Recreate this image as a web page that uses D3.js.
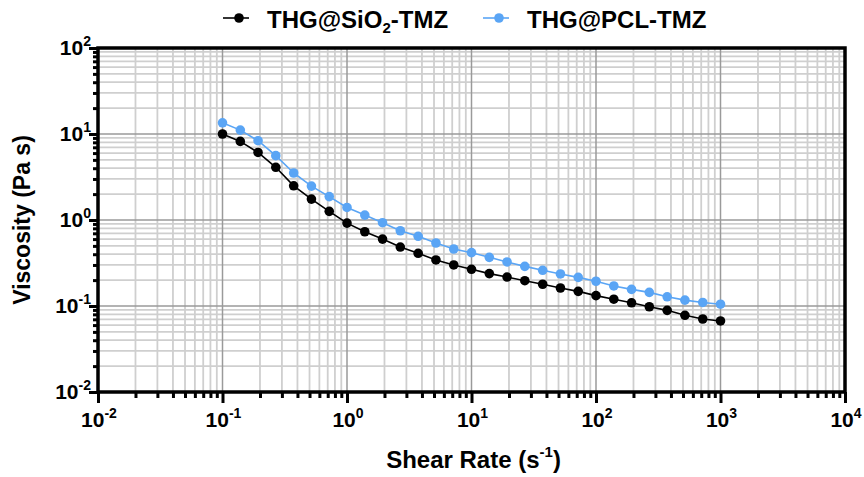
<!DOCTYPE html>
<html>
<head>
<meta charset="utf-8">
<script src="https://cdn.jsdelivr.net/npm/d3@7"></script>
<style>
  body { margin: 0; background: #fff; }
  svg text { font-family: "Liberation Sans", Arial, sans-serif; font-weight: bold; fill: #000; }
</style>
</head>
<body>
<div class="container"></div>
<script>
// shear rate (1/s), 7 points per decade
const shearRate = [0.1, 0.139, 0.193, 0.268, 0.373, 0.518, 0.72,
    1, 1.39, 1.93, 2.68, 3.73, 5.18, 7.2,
    10, 13.9, 19.3, 26.8, 37.3, 51.8, 72,
    100, 139, 193, 268, 373, 518, 720, 1000];

const viscSiO2 = [10, 8.2, 6.1, 4.1, 2.5, 1.75, 1.26,
    0.92, 0.73, 0.6, 0.485, 0.41, 0.343, 0.3,
    0.267, 0.238, 0.217, 0.197, 0.179, 0.162, 0.148,
    0.132, 0.12, 0.109, 0.098, 0.089, 0.078, 0.0706, 0.067];

const viscPCL = [13.5, 11.1, 8.36, 5.6, 3.52, 2.48, 1.87,
    1.4, 1.14, 0.93, 0.75, 0.646, 0.54, 0.46,
    0.417, 0.368, 0.325, 0.289, 0.26, 0.236, 0.215,
    0.194, 0.171, 0.156, 0.144, 0.128, 0.117, 0.11, 0.105];

const xExponents = [-2, -1, 0, 1, 2, 3, 4];
const yExponents = [-2, -1, 0, 1, 2];

const seriesNames = ["THG@SiO", "THG@PCL-TMZ"];
const seriesColors = ["#000000", "#5aa5f5"];

const drawChart = () => {
    const w = 864, h = 477,
        padding = { top: 48, bottom: 85, left: 98, right: 19 };

    const xScale = d3.scaleLog()
        .domain([1e-2, 1e4])
        .range([padding.left, w - padding.right]);

    const yScale = d3.scaleLog()
        .domain([1e-2, 1e2])
        .range([h - padding.bottom, padding.top]);

    let svg = d3.select("div.container")
        .append("svg")
        .attr("width", w)
        .attr("height", h);

    // minor / major tick values
    const minorX = [], minorY = [];
    xExponents.slice(0, -1).forEach(e => { for (let k = 2; k <= 9; k++) minorX.push(k * Math.pow(10, e)); });
    yExponents.slice(0, -1).forEach(e => { for (let k = 2; k <= 9; k++) minorY.push(k * Math.pow(10, e)); });
    const majorX = xExponents.map(e => Math.pow(10, e));
    const majorY = yExponents.map(e => Math.pow(10, e));

    const grid = svg.append("g").attr("class", "grid");
    grid.selectAll("line.minor-x").data(minorX).enter().append("line")
        .attr("x1", d => xScale(d)).attr("x2", d => xScale(d))
        .attr("y1", padding.top).attr("y2", h - padding.bottom)
        .attr("stroke", "#cfcfcf").attr("stroke-width", 1.8);
    grid.selectAll("line.minor-y").data(minorY).enter().append("line")
        .attr("y1", d => yScale(d)).attr("y2", d => yScale(d))
        .attr("x1", padding.left).attr("x2", w - padding.right)
        .attr("stroke", "#cfcfcf").attr("stroke-width", 1.8);
    grid.selectAll("line.major-x").data(majorX).enter().append("line")
        .attr("x1", d => xScale(d)).attr("x2", d => xScale(d))
        .attr("y1", padding.top).attr("y2", h - padding.bottom)
        .attr("stroke", "#9a9a9a").attr("stroke-width", 1.5);
    grid.selectAll("line.major-y").data(majorY).enter().append("line")
        .attr("y1", d => yScale(d)).attr("y2", d => yScale(d))
        .attr("x1", padding.left).attr("x2", w - padding.right)
        .attr("stroke", "#9a9a9a").attr("stroke-width", 1.5);

    // axes with ticks
    const xAxis = d3.axisBottom(xScale).tickValues(majorX).tickSize(11).tickFormat("");
    const xAxisMinor = d3.axisBottom(xScale).tickValues(minorX).tickSize(6).tickFormat("");
    const yAxis = d3.axisLeft(yScale).tickValues(majorY).tickSize(9).tickFormat("");
    const yAxisMinor = d3.axisLeft(yScale).tickValues(minorY).tickSize(5).tickFormat("");

    [xAxis, xAxisMinor].forEach(ax => {
        svg.append("g")
            .attr("transform", "translate(0," + (h - padding.bottom) + ")")
            .call(ax)
            .call(g => g.select(".domain").remove())
            .selectAll("line").attr("stroke", "#000").attr("stroke-width", 3);
    });
    [yAxis, yAxisMinor].forEach(ax => {
        svg.append("g")
            .attr("transform", "translate(" + padding.left + ",0)")
            .call(ax)
            .call(g => g.select(".domain").remove())
            .selectAll("line").attr("stroke", "#000").attr("stroke-width", 3);
    });

    // frame
    svg.append("rect")
        .attr("x", padding.left).attr("y", padding.top)
        .attr("width", w - padding.left - padding.right)
        .attr("height", h - padding.top - padding.bottom)
        .attr("fill", "none").attr("stroke", "#000").attr("stroke-width", 3.5);

    // tick labels
    const xl = svg.selectAll("text.xlab").data(xExponents).enter().append("text")
        .attr("class", "xlab")
        .attr("x", d => xScale(Math.pow(10, d)) + 1)
        .attr("y", 427)
        .attr("text-anchor", "middle")
        .style("font-size", "21px");
    xl.append("tspan").text("10");
    xl.append("tspan").attr("dy", -9).style("font-size", "14px").text(d => d < 0 ? "-" + Math.abs(d) : d);

    const yl = svg.selectAll("text.ylab").data(yExponents).enter().append("text")
        .attr("class", "ylab")
        .attr("x", 91)
        .attr("y", d => yScale(Math.pow(10, d)) + 7)
        .attr("text-anchor", "end")
        .style("font-size", "21px");
    yl.append("tspan").text("10");
    yl.append("tspan").attr("dy", -9).style("font-size", "14px").text(d => d < 0 ? "-" + Math.abs(d) : d);

    // axis titles
    const xt = svg.append("text")
        .attr("x", (padding.left + w - padding.right) / 2 + 2)
        .attr("y", 468)
        .attr("text-anchor", "middle")
        .style("font-size", "24px");
    xt.append("tspan").text("Shear Rate (s");
    xt.append("tspan").attr("dy", -11).style("font-size", "15px").text("-1");
    xt.append("tspan").attr("dy", 11).text(")");

    svg.append("text")
        .attr("transform", "translate(30," + ((padding.top + h - padding.bottom) / 2) + ") rotate(-90)")
        .attr("text-anchor", "middle")
        .style("font-size", "23px")
        .text("Viscosity (Pa s)");

    // series
    const series = [viscSiO2, viscPCL];
    const line = d3.line()
        .x((d, i) => xScale(shearRate[i]))
        .y(d => yScale(d));

    series.forEach((vals, s) => {
        svg.append("path")
            .datum(vals)
            .attr("d", line)
            .attr("fill", "none")
            .attr("stroke", seriesColors[s])
            .attr("stroke-width", 1.6);
        svg.selectAll("circle.s" + s)
            .data(vals)
            .enter()
            .append("circle")
            .attr("class", "s" + s)
            .attr("cx", (d, i) => xScale(shearRate[i]))
            .attr("cy", d => yScale(d))
            .attr("r", 4.8)
            .attr("fill", seriesColors[s]);
    });

    // legend
    const legendX = [223, 483];
    const legend = svg.selectAll("g.legend").data(seriesNames).enter().append("g")
        .attr("class", "legend")
        .attr("transform", (d, i) => "translate(" + legendX[i] + ",18)");
    legend.append("line")
        .attr("x1", 0).attr("x2", 26).attr("y1", 0).attr("y2", 0)
        .attr("stroke", (d, i) => seriesColors[i]).attr("stroke-width", 1.6);
    legend.append("circle")
        .attr("cx", 16).attr("cy", 0).attr("r", 4.8)
        .attr("fill", (d, i) => seriesColors[i]);
    const lt = legend.append("text")
        .attr("x", 44).attr("y", 10)
        .style("font-size", "24px");
    lt.append("tspan").text(d => d);
    lt.filter((d, i) => i === 0).append("tspan").attr("dy", 5).style("font-size", "15px").text("2");
    lt.filter((d, i) => i === 0).append("tspan").attr("dy", -5).text("-TMZ");
};

document.onreadystatechange = () => {
    if (document.readyState === "complete")
        drawChart();
};
</script>
</body>
</html>
